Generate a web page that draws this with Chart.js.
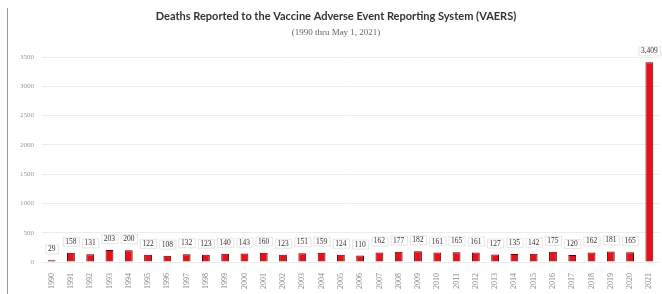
<!DOCTYPE html>
<html>
<head>
<meta charset="utf-8">
<script src="https://cdn.jsdelivr.net/npm/chart.js@4"></script>
<style>
  html, body { margin: 0; padding: 0; background: #fff; }
  #wrap { position: relative; width: 662px; height: 294px; }
  #edge { position: absolute; left: 7px; top: 8px; width: 1px; height: 286px; background: #999; }
</style>
</head>
<body>
<div id="wrap">
  <div id="edge"></div>
  <canvas id="vaersChart" width="662" height="294"></canvas>
</div>
<script>
const years = ['1990', '1991', '1992', '1993', '1994', '1995', '1996', '1997', '1998', '1999',
  '2000', '2001', '2002', '2003', '2004', '2005', '2006', '2007', '2008', '2009',
  '2010', '2011', '2012', '2013', '2014', '2015', '2016', '2017', '2018', '2019',
  '2020', '2021']
const deaths = [29, 158, 131, 203, 200, 122, 108, 132, 123, 140,
  143, 160, 123, 151, 159, 124, 110, 162, 177, 182,
  161, 165, 161, 127, 135, 142, 175, 120, 162, 181,
  165, 3409]
const yTicks = [0, 500, 1000, 1500, 2000, 2500, 3000, 3500]

const valueLabels = {
  id: 'valueLabels',
  afterDatasetsDraw(chart) {
    const ctx = chart.ctx
    const meta = chart.getDatasetMeta(0)
    ctx.save()
    ctx.font = '7.5px "Liberation Serif"'
    ctx.textAlign = 'center'
    ctx.textBaseline = 'middle'
    meta.data.forEach((bar, i) => {
      const text = deaths[i].toLocaleString('en-US')
      const w = ctx.measureText(text).width + 5
      const y = bar.y - 11
      ctx.fillStyle = '#fff'
      ctx.fillRect(bar.x - w / 2, y - 5, w, 10)
      ctx.strokeStyle = '#e6e6e6'
      ctx.lineWidth = 1
      ctx.strokeRect(bar.x - w / 2 + 0.5, y - 4.5, w, 9)
      ctx.fillStyle = '#333'
      ctx.fillText(text, bar.x, y)
    })
    ctx.restore()
  }
}

new Chart(document.getElementById('vaersChart'), {
  type: 'bar',
  data: {
    labels: years,
    datasets: [{
      data: deaths,
      backgroundColor: '#e8111b',
      borderColor: '#4a0a0a',
      borderWidth: 1,
      barPercentage: 0.45,
      categoryPercentage: 0.9
    }]
  },
  options: {
    responsive: false,
    animation: false,
    layout: { padding: { left: 12, right: 2, top: 0, bottom: 2 } },
    plugins: {
      legend: { display: false },
      tooltip: { enabled: false },
      title: {
        display: true,
        text: 'Deaths Reported to the Vaccine Adverse Event Reporting System (VAERS)',
        color: '#333',
        font: { family: 'Lato', size: 11, weight: 'bold' },
        padding: { top: 10, bottom: 4 }
      },
      subtitle: {
        display: true,
        text: '(1990 thru May 1, 2021)',
        color: '#666',
        font: { family: 'Liberation Serif', size: 9 },
        padding: { bottom: 19 }
      }
    },
    scales: {
      x: {
        grid: { display: false },
        border: { display: false },
        ticks: {
          color: '#888',
          font: { family: 'Liberation Serif', size: 8 },
          minRotation: 90,
          maxRotation: 90,
          autoSkip: false,
          padding: 3
        }
      },
      y: {
        min: 0,
        max: 3500,
        afterBuildTicks(axis) {
          axis.ticks = yTicks.map(v => ({ value: v }))
        },
        grid: { color: '#ececec', drawTicks: false },
        border: { display: false },
        ticks: {
          color: '#999',
          font: { family: 'Liberation Serif', size: 7 },
          padding: 8,
          callback: v => String(v)
        }
      }
    }
  },
  plugins: [valueLabels]
})
</script>
</body>
</html>
